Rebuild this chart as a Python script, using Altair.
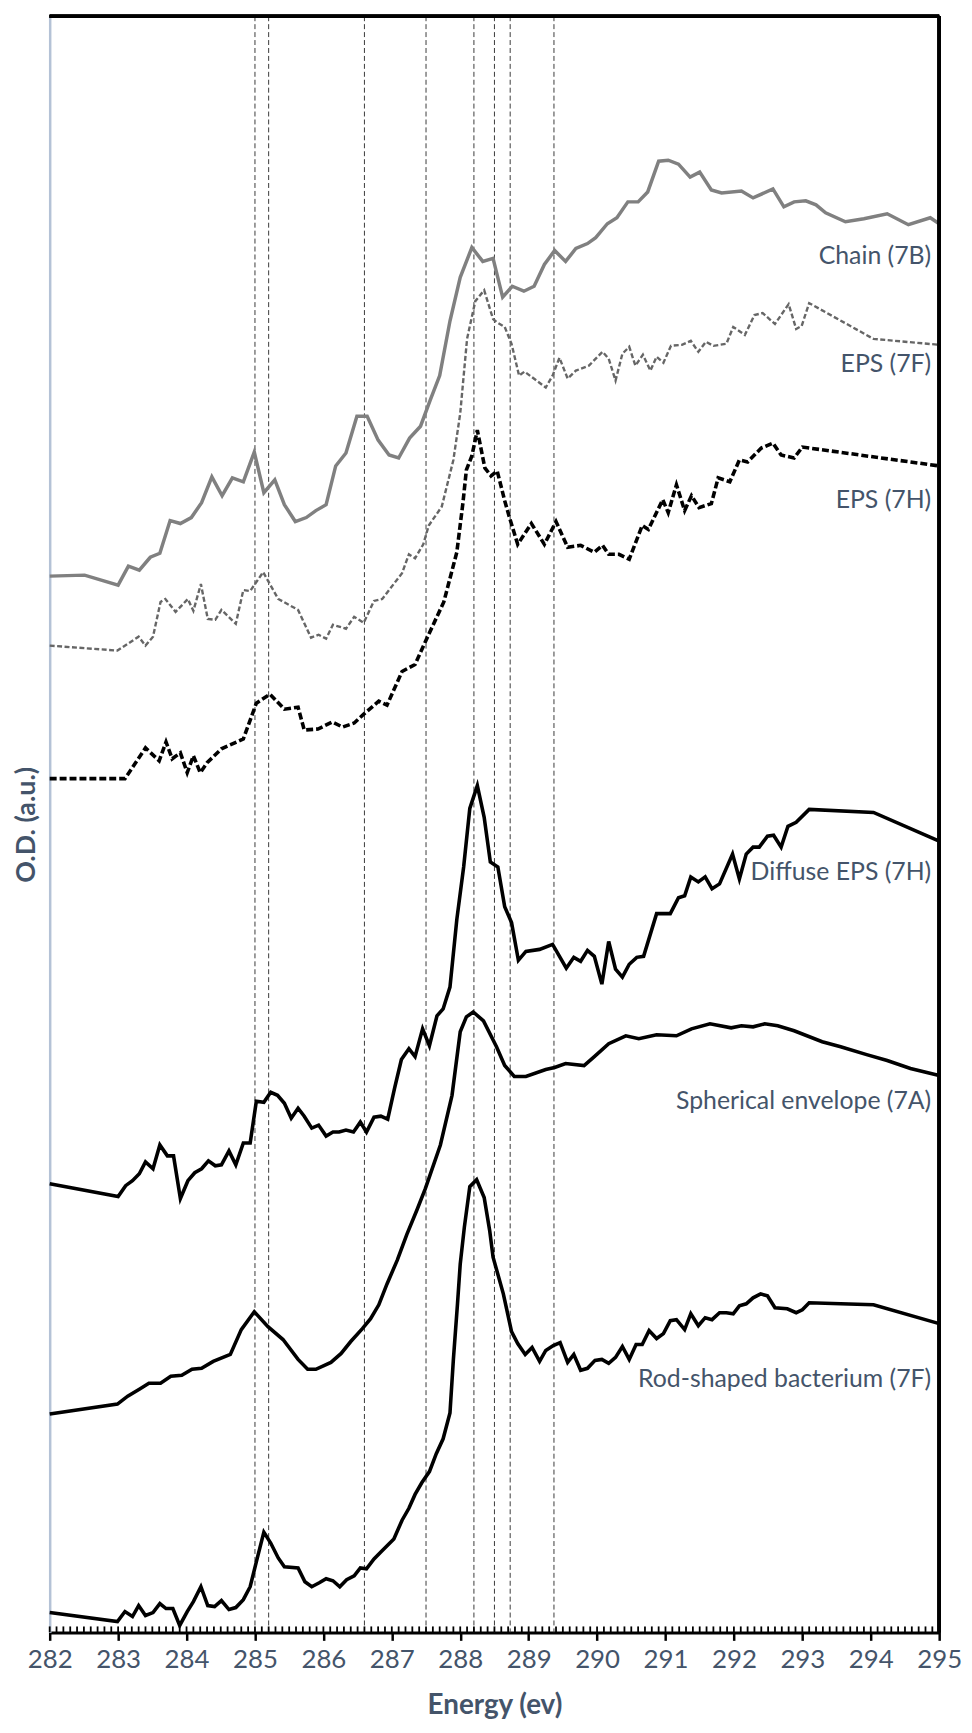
import altair as alt
import pandas as pd
import numpy as np

# ---------------- data ----------------
chain_e = [282.0, 282.51, 283.0, 283.15, 283.31, 283.47, 283.61, 283.76, 283.91, 284.07, 284.22, 284.37, 284.52, 284.67, 284.83, 284.99, 285.13, 285.29, 285.43, 285.59, 285.75, 285.89, 286.04, 286.18, 286.33, 286.49, 286.64, 286.80, 286.96, 287.10, 287.26, 287.42, 287.56, 287.70, 287.85, 288.0, 288.17, 288.33, 288.48, 288.62, 288.76, 288.93, 289.08, 289.23, 289.38, 289.54, 289.69, 289.86, 289.98, 290.15, 290.29, 290.45, 290.60, 290.74, 290.90, 291.04, 291.19, 291.36, 291.50, 291.67, 291.82, 292.11, 292.28, 292.57, 292.73, 292.88, 293.05, 293.20, 293.34, 293.63, 293.90, 294.24, 294.55, 294.87, 295.0]
chain_od = [1064, 1065, 1055, 1074, 1070, 1083, 1087, 1120, 1117, 1123, 1138, 1164, 1145, 1163, 1159, 1189, 1148, 1161, 1136, 1119, 1123, 1130, 1136, 1175, 1188, 1225, 1225, 1201, 1186, 1183, 1203, 1215, 1241, 1266, 1321, 1365, 1395, 1381, 1384, 1345, 1356, 1351, 1356, 1378, 1392, 1381, 1394, 1399, 1405, 1419, 1425, 1441, 1441, 1451, 1482, 1483, 1479, 1466, 1471, 1453, 1450, 1452, 1445, 1454, 1436, 1441, 1442, 1438, 1430, 1421, 1424, 1429, 1418, 1425, 1419]

eps7f_e = [282.0, 282.99, 283.30, 283.40, 283.51, 283.62, 283.69, 283.84, 284.02, 284.10, 284.21, 284.31, 284.42, 284.51, 284.72, 284.83, 284.93, 285.12, 285.34, 285.63, 285.82, 285.93, 286.04, 286.14, 286.33, 286.45, 286.59, 286.74, 286.86, 287.15, 287.25, 287.34, 287.46, 287.54, 287.73, 287.90, 288.0, 288.10, 288.22, 288.35, 288.48, 288.53, 288.65, 288.75, 288.86, 288.94, 289.25, 289.35, 289.45, 289.57, 289.69, 289.88, 290.08, 290.17, 290.27, 290.37, 290.47, 290.56, 290.67, 290.78, 290.87, 290.97, 291.08, 291.24, 291.37, 291.48, 291.59, 291.70, 291.89, 291.99, 292.16, 292.30, 292.42, 292.60, 292.80, 292.91, 292.99, 293.10, 294.04, 295.0]
eps7f_od = [994, 989, 1003, 994, 1003, 1038, 1041, 1028, 1041, 1029, 1056, 1021, 1020, 1030, 1016, 1050, 1049, 1068, 1041, 1030, 1002, 1005, 1001, 1015, 1011, 1023, 1017, 1039, 1041, 1067, 1086, 1082, 1096, 1115, 1134, 1181, 1228, 1303, 1341, 1352, 1323, 1320, 1315, 1298, 1266, 1270, 1254, 1266, 1284, 1263, 1271, 1276, 1290, 1283, 1261, 1288, 1295, 1276, 1287, 1271, 1285, 1279, 1296, 1297, 1301, 1290, 1300, 1296, 1298, 1315, 1307, 1327, 1329, 1318, 1338, 1313, 1316, 1339, 1303, 1297]

eps7h_e = [282.0, 283.10, 283.40, 283.60, 283.70, 283.79, 283.91, 284.01, 284.10, 284.20, 284.30, 284.51, 284.83, 285.02, 285.22, 285.43, 285.63, 285.72, 285.92, 286.13, 286.28, 286.45, 286.59, 286.81, 286.93, 287.15, 287.34, 287.49, 287.76, 287.95, 288.04, 288.09, 288.17, 288.25, 288.36, 288.45, 288.54, 288.65, 288.72, 288.84, 289.04, 289.23, 289.40, 289.57, 289.76, 289.96, 290.08, 290.17, 290.32, 290.47, 290.66, 290.75, 290.96, 291.04, 291.16, 291.28, 291.38, 291.49, 291.67, 291.77, 291.94, 292.08, 292.20, 292.40, 292.57, 292.69, 292.88, 293.00, 295.0]
eps7h_od = [860, 860, 891, 878, 897, 880, 886, 866, 883, 866, 876, 890, 900, 936, 945, 930, 932, 909, 910, 917, 912, 916, 925, 938, 934, 968, 975, 998, 1038, 1088, 1138, 1171, 1185, 1211, 1173, 1165, 1170, 1140, 1123, 1096, 1117, 1096, 1119, 1093, 1095, 1088, 1095, 1086, 1086, 1081, 1115, 1111, 1141, 1128, 1156, 1130, 1145, 1133, 1137, 1163, 1159, 1181, 1179, 1193, 1198, 1186, 1183, 1194, 1175]

diffuse_e = [282.0, 283.0, 283.11, 283.21, 283.31, 283.40, 283.51, 283.61, 283.72, 283.81, 283.91, 284.02, 284.12, 284.22, 284.32, 284.42, 284.51, 284.62, 284.72, 284.83, 284.93, 285.02, 285.13, 285.23, 285.33, 285.43, 285.53, 285.63, 285.72, 285.83, 285.93, 286.04, 286.14, 286.23, 286.33, 286.44, 286.54, 286.63, 286.74, 286.84, 286.94, 287.04, 287.14, 287.25, 287.34, 287.45, 287.55, 287.66, 287.75, 287.85, 287.95, 288.05, 288.14, 288.25, 288.35, 288.44, 288.55, 288.65, 288.75, 288.85, 288.96, 289.16, 289.35, 289.55, 289.66, 289.76, 289.86, 289.96, 290.07, 290.17, 290.27, 290.37, 290.47, 290.58, 290.68, 290.87, 291.07, 291.19, 291.28, 291.37, 291.48, 291.58, 291.68, 291.79, 291.98, 292.08, 292.18, 292.28, 292.37, 292.49, 292.58, 292.69, 292.79, 292.91, 293.10, 294.04, 295.0]
diffuse_od = [452, 439, 450, 455, 462, 474, 467, 491, 480, 480, 437, 455, 463, 467, 475, 470, 471, 485, 471, 493, 493, 535, 534, 544, 541, 533, 518, 528, 520, 508, 511, 500, 504, 504, 506, 504, 514, 504, 519, 520, 517, 548, 577, 588, 580, 608, 591, 621, 628, 650, 718, 771, 830, 853, 821, 776, 771, 731, 715, 677, 686, 688, 693, 669, 680, 676, 687, 681, 653, 696, 668, 660, 673, 680, 681, 724, 724, 740, 742, 761, 756, 761, 749, 754, 784, 759, 784, 791, 791, 802, 803, 791, 812, 816, 829, 826, 797]

sphere_e = [282.0, 282.99, 283.14, 283.31, 283.45, 283.62, 283.77, 283.93, 284.08, 284.22, 284.39, 284.64, 284.80, 284.99, 285.19, 285.41, 285.63, 285.77, 285.89, 286.11, 286.26, 286.40, 286.57, 286.69, 286.81, 286.93, 287.08, 287.22, 287.37, 287.49, 287.71, 287.88, 288.0, 288.09, 288.19, 288.34, 288.53, 288.65, 288.79, 288.96, 289.25, 289.38, 289.54, 289.81, 289.96, 290.17, 290.42, 290.61, 290.87, 291.16, 291.38, 291.65, 291.96, 292.11, 292.28, 292.45, 292.64, 292.88, 293.29, 293.56, 293.94, 294.24, 294.58, 295.0]
sphere_od = [220, 230, 238, 245, 251, 251, 258, 259, 265, 266, 273, 280, 305, 323, 308, 295, 275, 265, 265, 272, 281, 293, 306, 316, 330, 351, 375, 401, 426, 447, 491, 541, 605, 620, 625, 616, 590, 571, 560, 560, 567, 569, 573, 571, 580, 593, 601, 598, 602, 601, 608, 613, 609, 611, 610, 613, 611, 606, 595, 590, 582, 576, 568, 561]

rod_e = [282.0, 282.99, 283.10, 283.21, 283.30, 283.40, 283.51, 283.61, 283.70, 283.80, 283.90, 284.01, 284.10, 284.21, 284.31, 284.41, 284.51, 284.62, 284.72, 284.83, 284.93, 285.02, 285.13, 285.23, 285.34, 285.43, 285.63, 285.73, 285.83, 285.94, 286.04, 286.14, 286.24, 286.34, 286.45, 286.54, 286.63, 286.74, 286.84, 287.03, 287.15, 287.25, 287.34, 287.44, 287.55, 287.65, 287.75, 287.85, 287.90, 287.96, 288.0, 288.06, 288.14, 288.24, 288.35, 288.43, 288.48, 288.63, 288.75, 288.84, 288.95, 289.05, 289.16, 289.25, 289.36, 289.46, 289.57, 289.66, 289.76, 289.86, 289.97, 290.07, 290.17, 290.27, 290.37, 290.47, 290.57, 290.66, 290.76, 290.87, 290.97, 291.07, 291.16, 291.28, 291.37, 291.48, 291.58, 291.68, 291.79, 291.89, 291.99, 292.08, 292.18, 292.28, 292.39, 292.49, 292.60, 292.78, 292.91, 293.00, 293.10, 293.56, 294.04, 295.0]
rod_od = [20, 11, 21, 16, 27, 17, 20, 29, 24, 24, 7, 21, 31, 46, 27, 26, 32, 23, 25, 33, 46, 71, 101, 90, 75, 66, 65, 51, 46, 50, 54, 52, 46, 53, 57, 65, 64, 74, 81, 94, 113, 125, 139, 151, 162, 180, 195, 221, 275, 331, 371, 408, 449, 456, 438, 405, 378, 341, 303, 291, 280, 287, 273, 284, 289, 292, 272, 280, 264, 266, 274, 275, 271, 277, 288, 275, 290, 290, 304, 296, 301, 314, 315, 305, 321, 309, 317, 315, 322, 322, 321, 329, 331, 337, 341, 339, 327, 326, 322, 325, 332, 331, 330, 311]

series_names = ["Chain (7B)", "EPS (7F)", "EPS (7H)", "Diffuse EPS (7H)",
                "Spherical envelope (7A)", "Rod-shaped bacterium (7F)"]
label_od = [1386, 1278, 1141, 766, 535, 255]     # vertical anchor of each label (a.u.)
marker_lines = [285.0, 285.2, 286.6, 287.5, 288.2, 288.5, 288.73, 289.37]
x_ticks = list(range(282, 296))

# ---------------- styling ----------------
W, H = 896, 1628
TXT = "#44546A"
FONT = "Lato"
styles = [
    dict(color="#808080", strokeWidth=3.5),
    dict(color="#666666", strokeWidth=2.4, strokeDash=[5, 2.5]),
    dict(color="#000000", strokeWidth=3.6, strokeDash=[7, 3]),
    dict(color="#000000", strokeWidth=3.6),
    dict(color="#000000", strokeWidth=3.6),
    dict(color="#000000", strokeWidth=3.6),
]
all_e = [chain_e, eps7f_e, eps7h_e, diffuse_e, sphere_e, rod_e]
all_od = [chain_od, eps7f_od, eps7h_od, diffuse_od, sphere_od, rod_od]

xscale = alt.Scale(domain=[282, 295], nice=False, zero=False)
yscale = alt.Scale(domain=[0, H], nice=False, zero=False)

x_axis = alt.Axis(values=x_ticks, format="d", title="Energy (ev)",
                  labelFontSize=26, labelColor=TXT, labelFont=FONT,
                  labelOverlap=False, labelFlush=False,
                  labelPadding=6, tickSize=8, tickWidth=2.5, tickColor="black",
                  domainColor="black", domainWidth=3, grid=False,
                  titleFontSize=28, titleFont=FONT, titleFontWeight="bold",
                  titleColor=TXT, titleY=74, titleBaseline="middle")
y_axis = alt.Axis(labels=False, ticks=False, grid=False,
                  domainColor="#B4C2D6", domainWidth=2.5,
                  title="O.D. (a.u.)", titleFontSize=27, titleFont=FONT,
                  titleFontWeight="bold", titleColor=TXT,
                  titleX=-23, titleY=H / 2, titleAngle=270,
                  titleAlign="center", titleBaseline="middle")

# vertical dashed marker lines
vdf = pd.DataFrame({"E": marker_lines})
vlines = alt.Chart(vdf).mark_rule(color="#3a3a3a", strokeWidth=1, strokeDash=[5, 3]).encode(
    x=alt.X("E:Q", scale=xscale, axis=x_axis), y=alt.value(0), y2=alt.value(H))

# minor ticks along the bottom axis (every 0.1 eV)
mdf = pd.DataFrame({"E": np.round(np.arange(282.0, 295.001, 0.1), 1)})
minor = alt.Chart(mdf).mark_rule(color="black", strokeWidth=1.8).encode(
    x=alt.X("E:Q", scale=xscale), y=alt.value(H - 6), y2=alt.value(H))

line_layers = []
for name, es, ods, st in zip(series_names, all_e, all_od, styles):
    d = pd.DataFrame({"E": es, "OD": ods, "series": name})
    line_layers.append(
        alt.Chart(d).mark_line(strokeJoin="miter", **st).encode(
            x=alt.X("E:Q", scale=xscale, axis=x_axis),
            y=alt.Y("OD:Q", scale=yscale, axis=y_axis),
            order="E:Q",
        )
    )

ldf = pd.DataFrame({"series": series_names, "OD": label_od})
labels = alt.Chart(ldf).mark_text(align="right", baseline="middle", fontSize=25,
                                  font=FONT, color=TXT).encode(
    x=alt.value(W - 8), y=alt.Y("OD:Q", scale=yscale), text="series:N")

top_border = alt.Chart(vdf).mark_rule(color="black", strokeWidth=3).encode(
    x=alt.value(0), x2=alt.value(W), y=alt.value(0))
right_border = alt.Chart(vdf).mark_rule(color="black", strokeWidth=3).encode(
    x=alt.value(W), y=alt.value(0), y2=alt.value(H))

chart = alt.layer(vlines, *line_layers, minor, labels, top_border, right_border).properties(
    width=W, height=H,
    autosize=alt.AutoSizeParams(type="none"),
    padding={"left": 42, "top": 2, "right": 25, "bottom": 87},
).configure_view(stroke=None).configure(background="white")

chart.save("out.html", embed_options={"renderer": "svg", "actions": False})
